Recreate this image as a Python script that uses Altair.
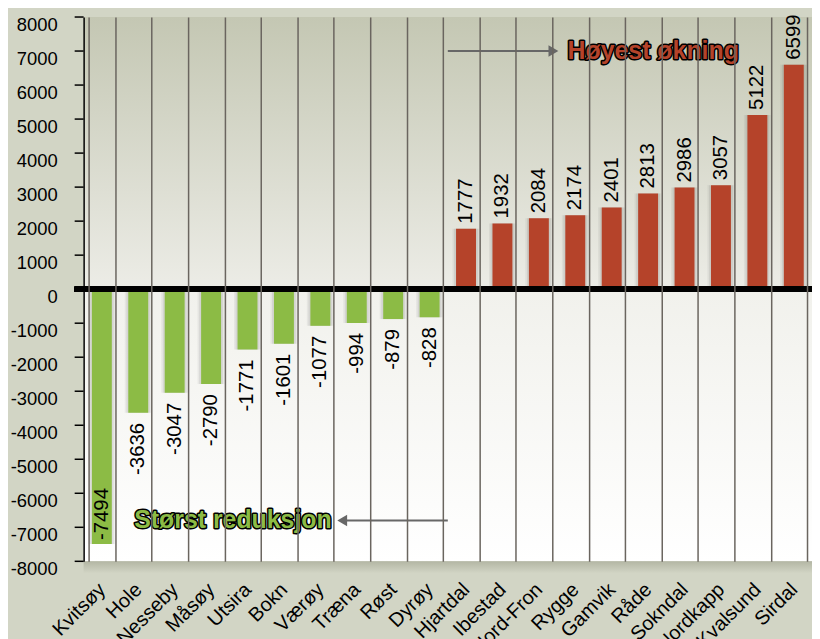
import altair as alt
import pandas as pd

names = ["Kvitsøy", "Hole", "Nesseby", "Måsøy", "Utsira", "Bokn", "Værøy", "Træna", "Røst", "Dyrøy",
         "Hjartdal", "Ibestad", "Nord-Fron", "Rygge", "Gamvik", "Råde", "Sokndal", "Nordkapp", "Kvalsund", "Sirdal"]
values = [-7494, -3636, -3047, -2790, -1771, -1601, -1077, -994, -879, -828,
          1777, 1932, 2084, 2174, 2401, 2813, 2986, 3057, 5122, 6599]
y_ticks = list(range(-8000, 8001, 1000))

ann_texts = ["Høyest økning", "Størst reduksjon"]
ann_colors = ["#b5432a", "#8cbb45"]
ann_y = [7000, -6800]
ann_x_start = [10, 10]
ann_x_end = [12.9, 7.1]
ann_text_x = [15.64, 4.1]
ann_shapes = ["triangle-right", "triangle-left"]

RED = "#b5432a"
GREEN = "#8cbb45"
FONT = "Liberation Sans"
W, H = 732, 547

df = pd.DataFrame({"name": names, "value": values, "label": [str(v) for v in values]})
ann = pd.DataFrame({"text": ann_texts, "col": ann_colors, "y": ann_y, "xs": ann_x_start,
                    "xe": ann_x_end, "tx": ann_text_x, "shape": ann_shapes})
ticks_df = pd.DataFrame({"t": y_ticks, "tl": [str(t) for t in y_ticks]})
bg = pd.DataFrame({"k": [0]})

xenc = alt.X("name:N", sort=names,
             scale=alt.Scale(paddingInner=0.26, paddingOuter=0.13),
             axis=alt.Axis(title=None, labelAngle=-45, labelAlign="right", labelBaseline="middle",
                           tickBand="extent", grid=True, gridColor="#6a655f", gridWidth=1.5,
                           ticks=False, domain=False, labelFont=FONT, labelFontSize=20,
                           labelColor="black", labelPadding=25, zindex=1, labelOverlap=False))
yaxis = alt.Axis(title=None, grid=False, domainColor="black", domainWidth=1.5,
                 ticks=False, labels=False, zindex=2)
yscale = alt.Scale(domain=[-8000, 8000], nice=False)
yenc = alt.Y("value:Q", scale=yscale, axis=yaxis)

background = alt.Chart(bg).mark_rect(
    color=alt.LinearGradient(gradient="linear", x1=0, x2=0, y1=0, y2=1, stops=[
        alt.GradientStop(offset=0, color="#c4c7b3"),
        alt.GradientStop(offset=0.495, color="#ecece6"),
        alt.GradientStop(offset=0.505, color="#f1f1ec"),
        alt.GradientStop(offset=1, color="#ffffff"),
    ])
).encode(x=alt.value(0), x2=alt.value(W), y=alt.value(0), y2=alt.value(H))

bottom_shadow = alt.Chart(bg).mark_rect(
    color=alt.LinearGradient(gradient="linear", x1=0, x2=0, y1=0, y2=1, stops=[
        alt.GradientStop(offset=0, color="#b3b6a4"),
        alt.GradientStop(offset=1, color="#d2d5c5"),
    ])
).encode(x=alt.value(0), x2=alt.value(W), y=alt.value(H), y2=alt.value(H + 12))

base = alt.Chart(df).encode(x=xenc, y=yenc)

shadow1 = base.mark_bar(color="#444", opacity=0.07, width=alt.RelativeBandSize(1.0))
shadow2 = base.mark_bar(color="#444", opacity=0.10, width=alt.RelativeBandSize(0.88))
bars = base.mark_bar(width=alt.RelativeBandSize(0.74)).encode(
    color=alt.condition(alt.datum.value > 0, alt.value(RED), alt.value(GREEN)))

txt_pos = base.transform_filter(alt.datum.value > 0).mark_text(
    angle=270, align="left", baseline="middle", dx=5, font=FONT, fontSize=20.5, color="black"
).encode(text="label:N")
txt_neg = base.transform_filter((alt.datum.value < 0) & (alt.datum.value > -7000)).mark_text(
    angle=270, align="right", baseline="middle", dx=-10, font=FONT, fontSize=20.5, color="black"
).encode(text="label:N")
txt_in = base.transform_filter(alt.datum.value <= -7000).mark_text(
    angle=270, align="left", baseline="middle", dx=4, font=FONT, fontSize=20.5, color="black"
).encode(text="label:N")

zero = alt.Chart(df).mark_rule(color="black", strokeWidth=5).encode(
    y=alt.Y(datum=0, scale=yscale, axis=yaxis), x=alt.value(-9), x2=alt.value(W))

# y-axis ticks and labels drawn from the tick list through the y scale
tbase = alt.Chart(ticks_df)
ty = alt.Y("t:Q", scale=yscale, axis=yaxis)
tick_marks = tbase.mark_rule(color="black", strokeWidth=1.5).encode(
    y=ty, x=alt.value(-9), x2=alt.value(0))
tick_labels = tbase.mark_text(align="right", baseline="top", dy=-1, font=FONT, fontSize=18.5,
                              color="black").encode(y=ty, x=alt.value(-26), text="tl:N")

abase = alt.Chart(ann)
sc = alt.Scale(domain=[0, 20], nice=False, zero=False)
ay = alt.Y("y:Q", scale=yscale, axis=yaxis)
arrows = abase.mark_rule(color="#676767", strokeWidth=2).encode(
    x=alt.X("xs:Q", scale=sc, axis=None), x2="xe:Q", y=ay)
heads = abase.mark_point(filled=True, color="#676767", size=130, opacity=1).encode(
    x=alt.X("xe:Q", scale=sc, axis=None),
    y=ay, shape=alt.Shape("shape:N", scale=None))
tx = alt.X("tx:Q", scale=sc, axis=None)
ann_outline = abase.mark_text(font=FONT, fontWeight="bold", fontSize=25, stroke="black",
                              strokeWidth=3, strokeJoin="round", fill="black").encode(
    x=tx, y=ay, text="text:N")
ann_fill = abase.mark_text(font=FONT, fontWeight="bold", fontSize=25).encode(
    x=tx, y=ay, text="text:N", color=alt.Color("col:N", scale=None))

main = alt.layer(background, bottom_shadow, shadow1, shadow2, bars, zero,
                 txt_pos, txt_neg, txt_in, tick_marks, tick_labels)
annot = alt.layer(arrows, heads, ann_outline, ann_fill)

chart = alt.layer(main, annot).resolve_scale(x="independent").properties(
    width=W, height=H,
    autosize=alt.AutoSizeParams(type="none"),
    padding={"left": 76, "top": 7.5, "right": 0, "bottom": 76},
    background="#d2d5c5",
).configure_view(stroke=None)

chart.save("out.html", embed_options={"renderer": "svg", "actions": False})
